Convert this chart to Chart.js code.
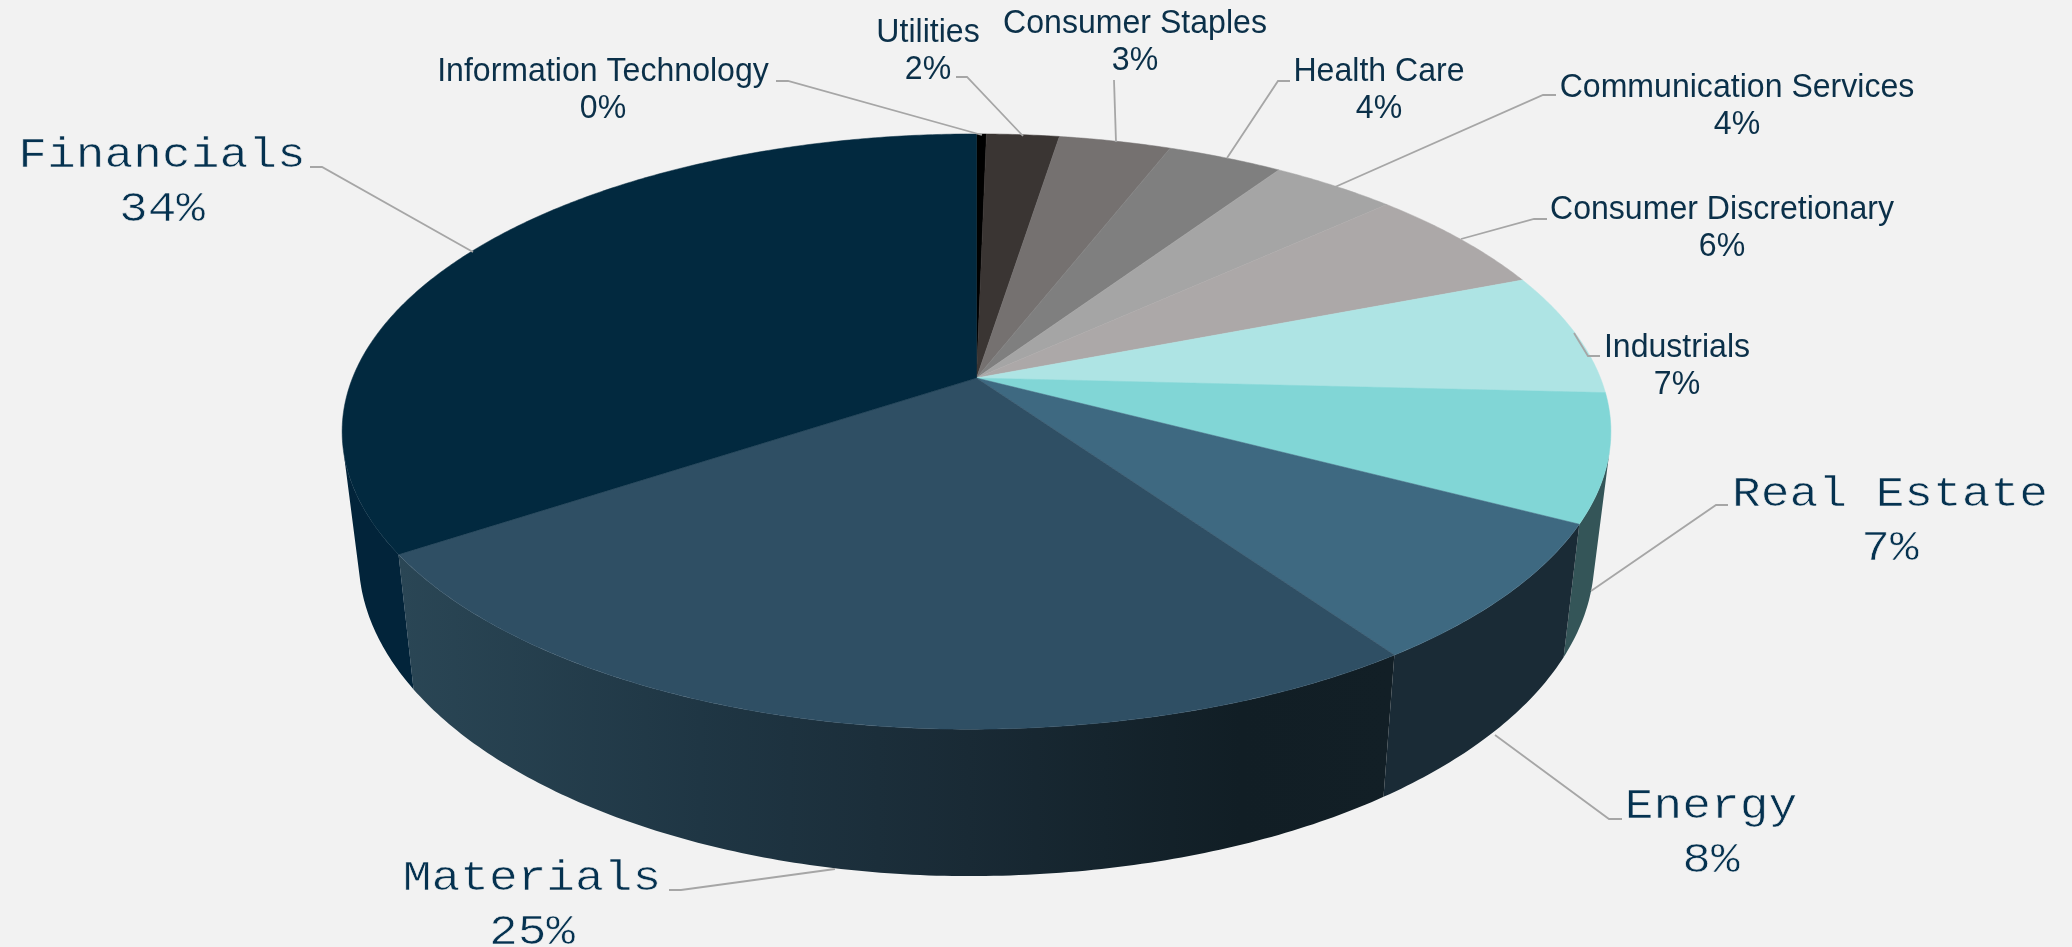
<!DOCTYPE html>
<html>
<head>
<meta charset="utf-8">
<title>Sector allocation</title>
<script src="https://cdn.jsdelivr.net/npm/chart.js@4"></script>
<style>
  html, body { margin: 0; padding: 0; background: #f2f2f2; }
  canvas { display: block; }
</style>
</head>
<body>
<canvas id="chart" width="2072" height="947"></canvas>
<script>
// Sector weights in percent, clockwise from twelve o'clock.
const categories = ['Information Technology', 'Utilities', 'Consumer Staples', 'Health Care',
  'Communication Services', 'Consumer Discretionary', 'Industrials', 'Real Estate',
  'Energy', 'Materials', 'Financials'];
const shareValues = [0.3, 2.2, 3.4, 3.5, 3.8, 5.9, 6.7, 6.9, 7.6, 25.4, 34.3];

const sliceColors = ['#000000', '#3a3533', '#757170', '#7f7f7f', '#a5a5a5', '#aca8a8',
  '#aee4e4', '#81d6d6', '#3e6981', '#2f4f64', '#02293f'];
const sideColors = ['#000000', '#231f1e', '#464443', '#4c4c4c', '#636363', '#676565',
  '#688989', '#345558', '#1a2b36', null, '#02243a'];
// Horizontal shading across the long front wall: [x, colour].
const frontWallStops = [[400, '#2a4655'], [700, '#1f3644'], [968, '#192a35'], [1240, '#111e25'], [1390, '#121f26']];

// Label text anchors and their elbowed leader lines.
const labelCenters = [[603, 81], [928, 42], [1135, 33], [1379, 81], [1737, 97], [1722, 219],
  [1677, 357], [1890, 506], [1711, 818], [532, 890], [162, 167]];
const monoLabels = [false, false, false, false, false, false, false, true, true, true, true];
const leaders = [
  [[776, 81], [788, 81], [982, 135]],
  [[956, 77], [967, 77], [1023, 136]],
  [[1114, 80], [1116, 142]],
  [[1290, 81], [1278, 81], [1227, 158]],
  [[1556, 95], [1543, 95], [1335, 187]],
  [[1547, 219], [1534, 219], [1461, 239]],
  [[1600, 356], [1588, 356], [1574, 333]],
  [[1728, 505], [1716, 505], [1591, 591]],
  [[1622, 819], [1609, 819], [1495, 735]],
  [[669, 890], [681, 890], [835, 869]],
  [[310, 167], [322, 167], [473, 252]]
];

// Perspective disc: apex position, radii, foreshortening, lean of the near edge, wall mapping.
const disc = { cx: 976.5, cy: 378, rx: 624, ry: 288, persp: 0.18, nearLean: 0.023 };
const wall = { xScale: 0.974, yScale: 1.068, yAtApex: 501 };

function topRim(angle) {
  const u = Math.cos(angle), v = Math.sin(angle), w = 1 - disc.persp * v;
  const dy = disc.ry * v / w;
  const fade = (1 - Math.abs(u)) * (1 - Math.abs(u));
  const dx = disc.rx * u / w - (dy > 0 ? disc.nearLean * dy * fade : 0);
  return { x: disc.cx + dx, y: disc.cy + dy, dx, dy };
}
function lowerRim(p) {
  return { x: disc.cx + wall.xScale * p.dx, y: wall.yAtApex + wall.yScale * p.dy };
}

const perspectivePie = {
  id: 'perspectivePie',
  // The library lays out the arcs; they are painted here through the disc projection.
  beforeDatasetDraw() { return false; },
  afterDatasetsDraw(chart) {
    const ctx = chart.ctx;
    const arcs = chart.getDatasetMeta(0).data;

    const frontWall = ctx.createLinearGradient(frontWallStops[0][0], 0, frontWallStops[frontWallStops.length - 1][0], 0);
    const span = frontWallStops[frontWallStops.length - 1][0] - frontWallStops[0][0];
    frontWallStops.forEach(([x, c]) => frontWall.addColorStop((x - frontWallStops[0][0]) / span, c));

    // Outer wall: the run of rim points that faces the viewer, as one polygon per slice.
    arcs.forEach((arc, i) => {
      const steps = Math.max(2, Math.ceil((arc.endAngle - arc.startAngle) * 90));
      const upper = [];
      for (let s = 0; s < steps; s++) {
        const a = topRim(arc.startAngle + (arc.endAngle - arc.startAngle) * s / steps);
        const b = topRim(arc.startAngle + (arc.endAngle - arc.startAngle) * (s + 1) / steps);
        const la = lowerRim(a);
        if ((b.x - a.x) * (la.y - a.y) - (b.y - a.y) * (la.x - a.x) >= 0) continue;
        if (!upper.length) upper.push(a);
        upper.push(b);
      }
      if (!upper.length) return;
      ctx.beginPath();
      upper.forEach((p, k) => k ? ctx.lineTo(p.x, p.y) : ctx.moveTo(p.x, p.y));
      upper.slice().reverse().forEach(p => { const l = lowerRim(p); ctx.lineTo(l.x, l.y); });
      ctx.closePath();
      ctx.fillStyle = sideColors[i] || frontWall;
      ctx.fill();
    });

    // Top face wedges.
    arcs.forEach((arc, i) => {
      const steps = Math.max(4, Math.ceil((arc.endAngle - arc.startAngle) * 120));
      ctx.beginPath();
      ctx.moveTo(disc.cx, disc.cy);
      for (let s = 0; s <= steps; s++) {
        const p = topRim(arc.startAngle + (arc.endAngle - arc.startAngle) * s / steps);
        ctx.lineTo(p.x, p.y);
      }
      ctx.closePath();
      ctx.fillStyle = sliceColors[i];
      ctx.strokeStyle = sliceColors[i];
      ctx.lineWidth = 0.5;
      ctx.fill(); ctx.stroke();
    });

    // Leader lines.
    ctx.strokeStyle = '#a6a6a6';
    ctx.lineWidth = 1.8;
    leaders.forEach(path => {
      ctx.beginPath();
      path.forEach(([x, y], k) => k ? ctx.lineTo(x, y) : ctx.moveTo(x, y));
      ctx.stroke();
    });

    // Category name with its rounded share underneath.
    ctx.textAlign = 'center';
    ctx.textBaseline = 'alphabetic';
    const drawLabel = (text, x, y, mono) => {
      ctx.save();
      ctx.translate(x, y);
      ctx.scale(mono ? 1.14 : 0.972, 1);
      ctx.fillText(text, 0, 0);
      if (mono) {
        // Pare the strokes back to a fine typewriter weight.
        ctx.strokeStyle = '#f2f2f2';
        ctx.lineWidth = 0.6;
        ctx.strokeText(text, 0, 0);
      }
      ctx.restore();
    };
    categories.forEach((name, i) => {
      const mono = monoLabels[i];
      ctx.font = mono ? '42px "Liberation Mono"' : '33px "Liberation Sans"';
      ctx.fillStyle = mono ? '#053250' : '#0b3049';
      const [x, y] = labelCenters[i];
      drawLabel(name, x, y, mono);
      drawLabel(Math.round(shareValues[i]) + '%', x, y + (mono ? 54 : 36.5), mono);
    });
  }
};

new Chart(document.getElementById('chart'), {
  type: 'pie',
  data: {
    labels: categories,
    datasets: [{ data: shareValues, backgroundColor: sliceColors, borderWidth: 0 }]
  },
  options: {
    responsive: false,
    animation: false,
    events: [],
    plugins: { legend: { display: false }, tooltip: { enabled: false } }
  },
  plugins: [perspectivePie]
});
</script>
</body>
</html>
